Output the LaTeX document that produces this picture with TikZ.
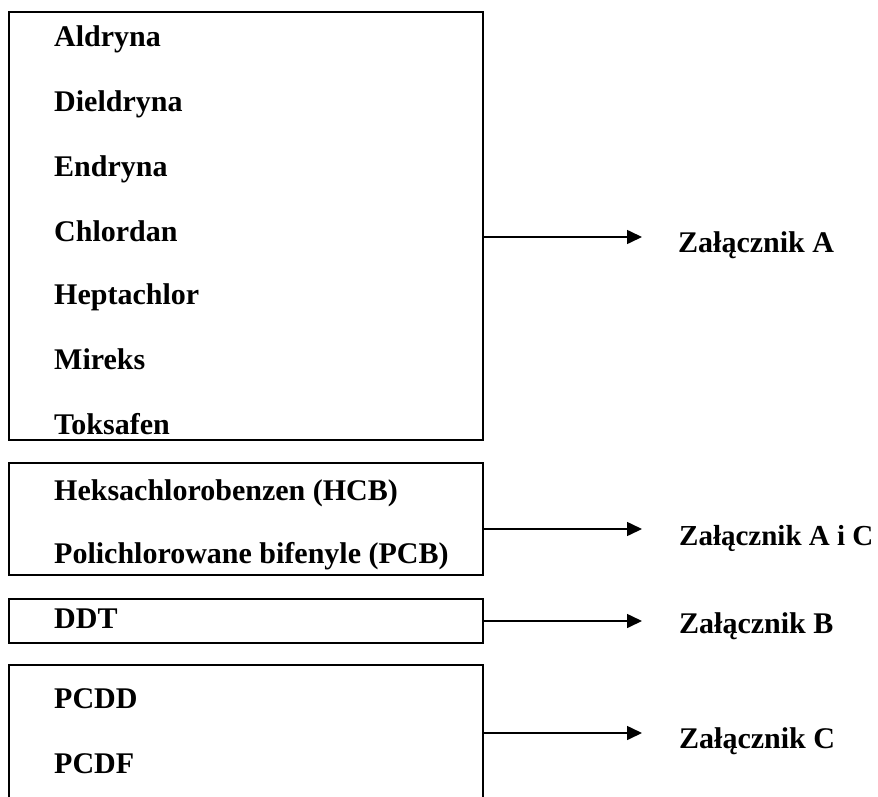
\documentclass[tikz,border=0pt]{standalone}
\usepackage{fontspec}
\setmainfont{Liberation Serif}
\usetikzlibrary{arrows.meta}
\begin{document}
\begin{tikzpicture}[x=1pt,y=-1pt,
  box/.style={draw,line width=2pt,rectangle,minimum width=474pt,inner sep=0pt},
  item/.style={anchor=base west,inner sep=0pt,font=\fontsize{30}{31}\bfseries\selectfont},
  annex/.style={anchor=base west,inner sep=0pt,font=\fontsize{30}{31}\bfseries\selectfont},
  conn/.style={line width=1.6pt,-{Triangle[length=15pt,width=14pt]}}]
\useasboundingbox (0,0) rectangle (878,797);
% boxes
\node[box,minimum height=428pt] (b1) at (246,226) {};
\node[box,minimum height=112pt] (b2) at (246,519) {};
\node[box,minimum height=44pt] (b3) at (246,621) {};
\node[draw=none,minimum width=474pt,minimum height=140pt,inner sep=0pt] (b4) at (246,735) {};
\draw[line width=2pt] (b4.south west) -- (b4.north west) -- (b4.north east) -- (b4.south east);
% items
\node[item] (t1) at (54,47) {Aldryna};
\node[item] (t2) at (54,112) {Dieldryna};
\node[item] (t3) at (54,176) {Endryna};
\node[item] (t4) at (54,241) {Chlordan};
\node[item] (t5) at (54,304) {Heptachlor};
\node[item] (t6) at (54,369) {Mireks};
\node[item] (t7) at (54,434) {Toksafen};
\node[item] (t8) at (54,500) {Heksachlorobenzen (HCB)};
\node[item] (t9) at (54,563) {Polichlorowane bifenyle (PCB)};
\node[item] (t10) at (54,628) {DDT};
\node[item] (t11) at (54,708) {PCDD};
\node[item] (t12) at (54,773) {PCDF};
% annex labels
\node[annex] (zA) at (678,252) {Załącznik A};
\node[annex,font=\fontsize{29}{30}\bfseries\selectfont] (zAC) at (679,545) {Załącznik A i C};
\node[annex] (zB) at (679,633) {Załącznik B};
\node[annex] (zC) at (679,748) {Załącznik C};
% arrow tips
\coordinate (pA) at (642,237);
\coordinate (pAC) at (642,529);
\coordinate (pB) at (642,621);
\coordinate (pC) at (642,733);
\draw[conn] (b1.east |- pA) -- (pA);
\draw[conn] (b2.east |- pAC) -- (pAC);
\draw[conn] (b3.east |- pB) -- (pB);
\draw[conn] (b4.east |- pC) -- (pC);
\end{tikzpicture}
\end{document}
